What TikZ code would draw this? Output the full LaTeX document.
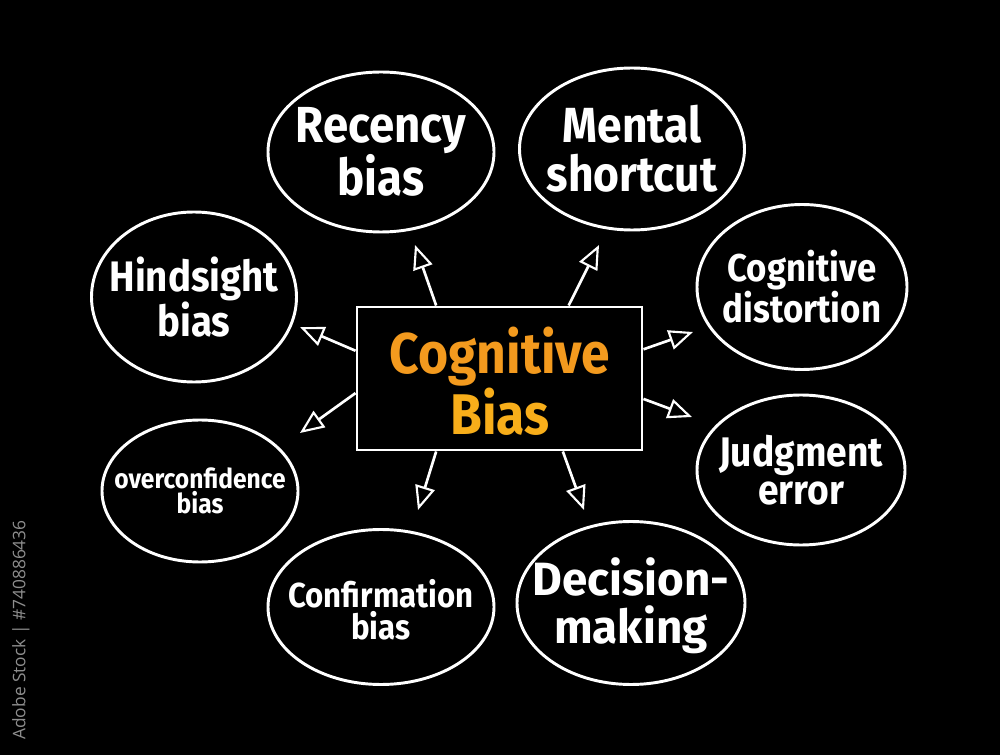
\documentclass[tikz,border=0pt]{standalone}
\usepackage{fontspec}
\setmainfont[FakeStretch=0.9]{Fira Sans}
\newfontfamily\widefont[FakeStretch=0.98]{Fira Sans}
\newfontfamily\sidefont{Open Sans}
\usetikzlibrary{shapes.geometric,arrows.meta,calc}
\definecolor{orA}{HTML}{F39A1E}
\definecolor{orB}{HTML}{F8AE1A}
\definecolor{sidegray}{HTML}{8E8E8E}
\tikzset{
  bubble/.style n args={2}{ellipse, draw=white, line width=2.2pt,
    minimum width=#1*0.75pt, minimum height=#2*0.75pt, inner sep=0pt},
  label text/.style 2 args={align=center, text=white, inner sep=0pt,
    font=\fontsize{#1}{#2}\selectfont\bfseries},
  spoke/.style={draw=white, line width=2pt,
    -{Triangle[open, length=18pt, width=15pt, line width=1.6pt, fill=black]}}
}
\begin{document}
\begin{tikzpicture}[x=0.75pt,y=-0.75pt]
\fill[black] (0,0) rectangle (1000,755);
\useasboundingbox (0,0) rectangle (1000,755);

% central box
\node[draw=white, line width=2.2pt, minimum width=285*0.75pt, minimum height=143*0.75pt,
  inner sep=0pt] (cb) at (499.5,378.5) {};
\node[align=center, inner sep=0pt, font=\fontsize{43}{46}\selectfont\bfseries] (cbT) at (500,381)
  {\textcolor{orA}{Cognitive}\\\textcolor{orB}{Bias}};

% bubbles
\node[bubble={226}{160}] (rec) at (381,152) {};
\node[bubble={225}{162}] (men) at (632,149) {};
\node[bubble={210}{165}] (dis) at (802,287) {};
\node[bubble={208}{150}] (jud) at (801,470) {};
\node[bubble={228}{163}] (dec) at (631,603) {};
\node[bubble={226}{155}] (con) at (381,607) {};
\node[bubble={196}{142}] (ove) at (200,491) {};
\node[bubble={205}{170}] (hin) at (194,297) {};

\node[label text={38}{37}] (recT) at (rec) {Recency\\bias};
\node[label text={37}{37}] (menT) at (men) {Mental\\shortcut};
\node[label text={29}{27}] (disT) at (dis) {Cognitive\\distortion};
\node[label text={31}{29}] (judT) at (jud) {Judgment\\error};
\node[label text={35}{36}, font=\widefont\fontsize{35}{36}\selectfont\bfseries] (decT) at (631,606) {Decision-\\making};
\node[label text={26}{24}] (conT) at (381,610) {Confirmation\\bias};
\node[label text={20.5}{19}] (oveT) at (ove) {overconfidence\\bias};
\node[label text={32}{28}] (hinT) at (hin) {Hindsight\\bias};

% arrow tips
\coordinate (t1) at (415,245);
\coordinate (t2) at (599,245);
\coordinate (t3) at (300,327);
\coordinate (t4) at (300,433);
\coordinate (t5) at (693,332);
\coordinate (t6) at (692,417);
\coordinate (t7) at (418,510);
\coordinate (t8) at (584,510);

\draw[spoke] ($(cb.north west)!0.28!(cb.north east)$) -- (t1);
\draw[spoke] ($(cb.north west)!0.74!(cb.north east)$) -- (t2);
\draw[spoke] ($(cb.north west)!0.31!(cb.south west)$) -- (t3);
\draw[spoke] ($(cb.north west)!0.60!(cb.south west)$) -- (t4);
\draw[spoke] ($(cb.north east)!0.30!(cb.south east)$) -- (t5);
\draw[spoke] ($(cb.north east)!0.64!(cb.south east)$) -- (t6);
\draw[spoke] ($(cb.south west)!0.28!(cb.south east)$) -- (t7);
\draw[spoke] ($(cb.south west)!0.72!(cb.south east)$) -- (t8);

% side label
\node[rotate=90, text=sidegray, font=\sidefont\fontsize{13}{13}\selectfont, inner sep=0pt] (side) at (21,630) {Adobe Stock | \#740886436};
\end{tikzpicture}
\end{document}
